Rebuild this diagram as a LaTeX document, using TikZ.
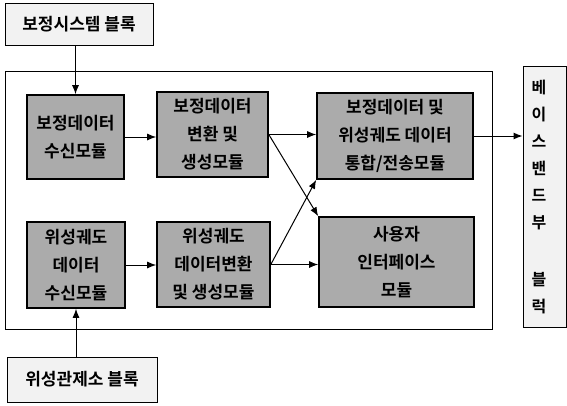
\documentclass[tikz,border=0pt]{standalone}
\usepackage{fontspec}
\setmainfont{Noto Sans CJK KR}
\newfontfamily\krb{Noto Sans CJK KR Bold}
\usetikzlibrary{arrows.meta,calc}
\begin{document}
\begin{tikzpicture}[x=1pt,y=-1pt,
  mod/.style={draw=black, line width=1.6pt, fill=gray!66, align=center, inner sep=0pt,
    font=\krb\fontsize{17}{28}\selectfont},
  ext/.style={draw=black, line width=1pt, fill=gray!10, align=center, inner sep=0pt,
    font=\krb\fontsize{17}{20}\selectfont},
  arr/.style={line width=1pt, -{Latex[length=9pt,width=7pt]}},
  frame/.style={draw=black, line width=1pt}]
\useasboundingbox (0,0) rectangle (567,405);
% outer frame
\draw[frame] (5,71) rectangle (492,329);
% external blocks
\node[ext, minimum width=148pt, minimum height=42pt] (top) at (79,24) {보정시스템 블록};
\node[ext, minimum width=150pt, minimum height=45pt] (bot) at (82,379.5) {위성관제소 블록};
\node[ext, minimum width=43pt, minimum height=261pt] (g) at (544.5,196.5) {};
\node[align=center, inner sep=0pt, font=\krb\fontsize{16}{27}\selectfont] (gl) at (539,197)
  {베\\이\\스\\밴\\드\\부\\[30pt]블\\럭};
% modules
\node[mod, minimum width=97pt, minimum height=84pt] (a) at (75.5,137) {보정데이터\\수신모듈};
\node[mod, minimum width=111pt, minimum height=85pt] (b) at (212.5,134.5) {보정데이터\\변환 및\\생성모듈};
\node[mod, minimum width=98pt, minimum height=86pt] (c) at (76,265) {위성궤도\\데이터\\수신모듈};
\node[mod, minimum width=113pt, minimum height=85pt] (d) at (213.5,264.5) {위성궤도\\데이터변환\\및 생성모듈};
\node[mod, minimum width=156pt, minimum height=86pt] (e) at (395,136) {보정데이터 및\\위성궤도 데이터\\통합/전송모듈};
\node[mod, minimum width=155pt, minimum height=90pt] (f) at (396.5,262) {사용자\\인터페이스\\모듈};
% connectors
\draw[arr] (top.south -| a.north) -- (a.north);
\draw[arr] (bot.north -| c.south) -- (c.south);
\draw[arr] (a.east) -- (b.west |- a.east);
\draw[arr] (c.east) -- (d.west |- c.east);
\draw[arr] (b.east) -- (e.west |- b.east);
\draw[arr] (b.east) -- (f.north west);
\draw[arr] (d.east) -- (f.west |- d.east);
\draw[arr] (d.east) -- (e.south west);
\draw[arr] (e.east) -- (g.west |- e.east);
\end{tikzpicture}
\end{document}
